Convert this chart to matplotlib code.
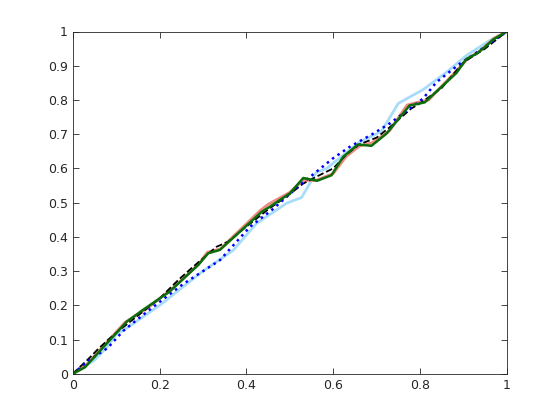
import numpy as np
import matplotlib
matplotlib.use('Agg')
import matplotlib.pyplot as plt

# light blue curve
lx = [0, 0.05, 0.08, 0.1, 0.12, 0.2, 0.3, 0.369, 0.423, 0.492, 0.527, 0.561, 0.585, 0.661, 0.711, 0.75, 0.807, 0.861, 0.907, 0.961, 1]
ly = [0, 0.04, 0.08, 0.115, 0.13, 0.2, 0.3, 0.36, 0.439, 0.498, 0.515, 0.588, 0.6, 0.677, 0.708, 0.79, 0.83, 0.881, 0.93, 0.974, 1]

# salmon curve
sx = [0, 0.03, 0.12, 0.17, 0.23, 0.29, 0.31, 0.34, 0.43, 0.45, 0.5, 0.53, 0.56, 0.6, 0.63, 0.66, 0.69, 0.73, 0.77, 0.8, 0.82, 0.88, 0.91, 0.94, 0.97, 1]
sy = [0, 0.025, 0.15, 0.19, 0.25, 0.32, 0.355, 0.365, 0.475, 0.495, 0.53, 0.565, 0.565, 0.585, 0.635, 0.665, 0.675, 0.71, 0.785, 0.795, 0.8, 0.88, 0.92, 0.945, 0.98, 1]

# black dashed curve
bx = [0, 0.038, 0.058, 0.081, 0.108, 0.15, 0.2, 0.243, 0.273, 0.331, 0.358, 0.4, 0.45, 0.5, 0.53, 0.56, 0.6, 0.63, 0.66, 0.7, 0.73, 0.78, 0.8, 0.85, 0.9, 0.95, 1]
by = [0, 0.046, 0.072, 0.099, 0.128, 0.17, 0.22, 0.274, 0.308, 0.371, 0.386, 0.43, 0.48, 0.525, 0.555, 0.575, 0.6, 0.64, 0.67, 0.69, 0.72, 0.775, 0.79, 0.835, 0.91, 0.95, 1]

# blue dotted curve
dx = [0, 0.039, 0.08, 0.116, 0.147, 0.2, 0.254, 0.339, 0.408, 0.46, 0.523, 0.561, 0.6, 0.638, 0.69, 0.73, 0.807, 0.838, 0.892, 0.938, 1]
dy = [0, 0.041, 0.075, 0.125, 0.157, 0.21, 0.262, 0.332, 0.429, 0.48, 0.551, 0.59, 0.63, 0.663, 0.7, 0.731, 0.804, 0.852, 0.906, 0.945, 1]

# green curve
gx = [0, 0.028, 0.124, 0.162, 0.223, 0.289, 0.312, 0.339, 0.435, 0.454, 0.5, 0.531, 0.563, 0.596, 0.623, 0.657, 0.688, 0.723, 0.776, 0.796, 0.811, 0.884, 0.907, 0.93, 0.949, 0.968, 1]
gy = [0, 0.019, 0.152, 0.187, 0.24, 0.318, 0.352, 0.362, 0.473, 0.488, 0.527, 0.572, 0.564, 0.58, 0.634, 0.67, 0.666, 0.702, 0.784, 0.789, 0.793, 0.879, 0.92, 0.935, 0.954, 0.976, 1]

fig = plt.figure(figsize=(5.6, 4.2), dpi=100)
ax = fig.add_axes([0.13, 0.11, 0.775, 0.815])

ax.plot(lx, ly, color='#a8dcfa', lw=2.0)
ax.plot(sx, sy, color='#f08a80', lw=2.0)
ax.plot(bx, by, 'k--', lw=1.3)
ax.plot(dx, dy, color='#0000ff', ls=':', lw=1.8)
ax.plot(gx, gy, color='#0a6e0a', lw=1.8)

ax.set_xlim(0, 1)
ax.set_ylim(0, 1)
ax.set_xticks(np.arange(0, 1.01, 0.2))
ax.set_yticks(np.arange(0, 1.01, 0.1))
ax.set_xticklabels(['0', '0.2', '0.4', '0.6', '0.8', '1'])
ax.set_yticklabels(['0'] + ['%.1f' % v for v in np.arange(0.1, 0.95, 0.1)] + ['1'])

axcol = '#262626'
for sp in ax.spines.values():
    sp.set_color(axcol)
    sp.set_linewidth(0.6)
ax.tick_params(direction='in', top=True, right=True, length=4, width=0.6,
               colors=axcol, labelsize=9)
for lab in ax.get_xticklabels() + ax.get_yticklabels():
    lab.set_family('DejaVu Sans')

fig.savefig('out.png', dpi=100)
